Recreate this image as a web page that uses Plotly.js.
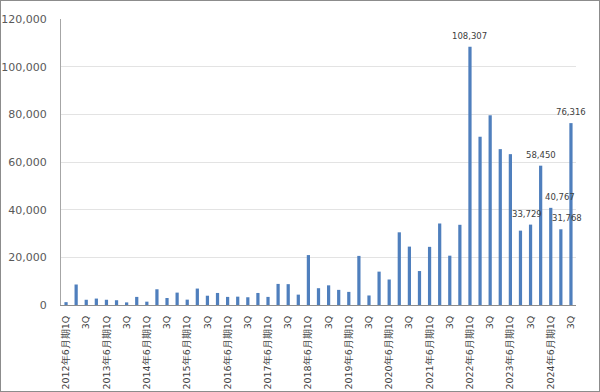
<!DOCTYPE html>
<html>
<head>
<meta charset="utf-8">
<script src="https://cdn.plot.ly/plotly-3.0.1.min.js"></script>
<style>
html,body{margin:0;padding:0;background:#fff;}
#frame{width:600px;height:392px;box-sizing:border-box;border:1px solid #8c8c8c;overflow:hidden;}
#chart{width:598px;height:390px;}
</style>
</head>
<body>
<div id="frame"><div id="chart"></div></div>
<script>
// Fiscal years (June year-end) and quarters
const years = [2012,2013,2014,2015,2016,2017,2018,2019,2020,2021,2022,2023,2024];
const quarters = ["1Q","2Q","3Q","4Q"];

// Quarterly values, 2012年6月期1Q .. 2024年6月期3Q (51 bars)
const values = [
  1200, 8600, 2200, 2700,      // 2012
  2200, 2000, 1100, 3400,      // 2013
  1400, 6600, 2950, 5200,      // 2014
  2250, 6900, 3900, 5050,      // 2015
  3400, 3500, 3250, 5050,      // 2016
  3400, 8850, 8750, 4350,      // 2017
  20950, 7050, 8250, 6350,     // 2018
  5500, 20600, 4000, 14000,    // 2019
  10700, 30500, 24500, 14250,  // 2020
  24400, 34200, 20700, 33650,  // 2021
  108307, 70600, 79600, 65400, // 2022
  63300, 31200, 33729, 58450,  // 2023
  40767, 31768, 76316          // 2024
];

// Bars that carry a data label (category names)
const labeledCats = ["2022年6月期1Q","2023年6月期3Q","2023年6月期4Q","2024年6月期1Q","2024年6月期2Q","2024年6月期3Q"];
const labelXShift = [0, -4, 0, 9, 6, 0];

const categories = [];
years.forEach(y => quarters.forEach(q => categories.push(y + "年6月期" + q)));
categories.length = values.length;

const tickVals = categories.filter(c => c.endsWith("1Q") || c.endsWith("3Q"));
const tickText = tickVals.map(c => c.endsWith("1Q") ? c : "3Q");

const fmt = v => v.toLocaleString("en-US");

const annotations = labeledCats.map((c, i) => ({
  x: c, y: values[categories.indexOf(c)],
  xref: "x", yref: "y",
  text: fmt(values[categories.indexOf(c)]),
  showarrow: false, yanchor: "bottom", xanchor: "center",
  xshift: labelXShift[i], yshift: 4,
  font: {family: "DejaVu Sans, Verdana, sans-serif", size: 8.5, color: "#404040"}
}));

const trace = {
  type: "bar",
  x: categories,
  y: values,
  marker: {color: "#4f7fbd"},
  hoverinfo: "x+y"
};

const layout = {
  width: 598, height: 390,
  margin: {l: 60, r: 23, t: 18, b: 86, pad: 0},
  paper_bgcolor: "#fff",
  plot_bgcolor: "#fff",
  bargap: 0.68,
  showlegend: false,
  font: {family: "DejaVu Sans, Verdana, sans-serif", color: "#595959"},
  xaxis: {
    type: "category",
    range: [-0.5, categories.length - 0.5],
    autorange: false,
    tickmode: "array",
    tickvals: tickVals,
    ticktext: tickText,
    tickangle: -90,
    tickfont: {size: 9.5, color: "#404040"},
    showline: true, linecolor: "#8c8c8c", linewidth: 1,
    ticks: "", ticklabelstandoff: 6,
    showgrid: false, zeroline: false
  },
  yaxis: {
    range: [0, 120000],
    autorange: false,
    dtick: 20000,
    tickformat: ",d",
    tickfont: {size: 11, color: "#595959"},
    showline: true, linecolor: "#a6a6a6", linewidth: 1,
    gridcolor: "#e3e3e3", gridwidth: 1,
    zeroline: false,
    ticks: "", ticklabelstandoff: 11
  },
  annotations: annotations
};

Plotly.newPlot("chart", [trace], layout, {displayModeBar: false, staticPlot: true});
</script>
</body>
</html>
